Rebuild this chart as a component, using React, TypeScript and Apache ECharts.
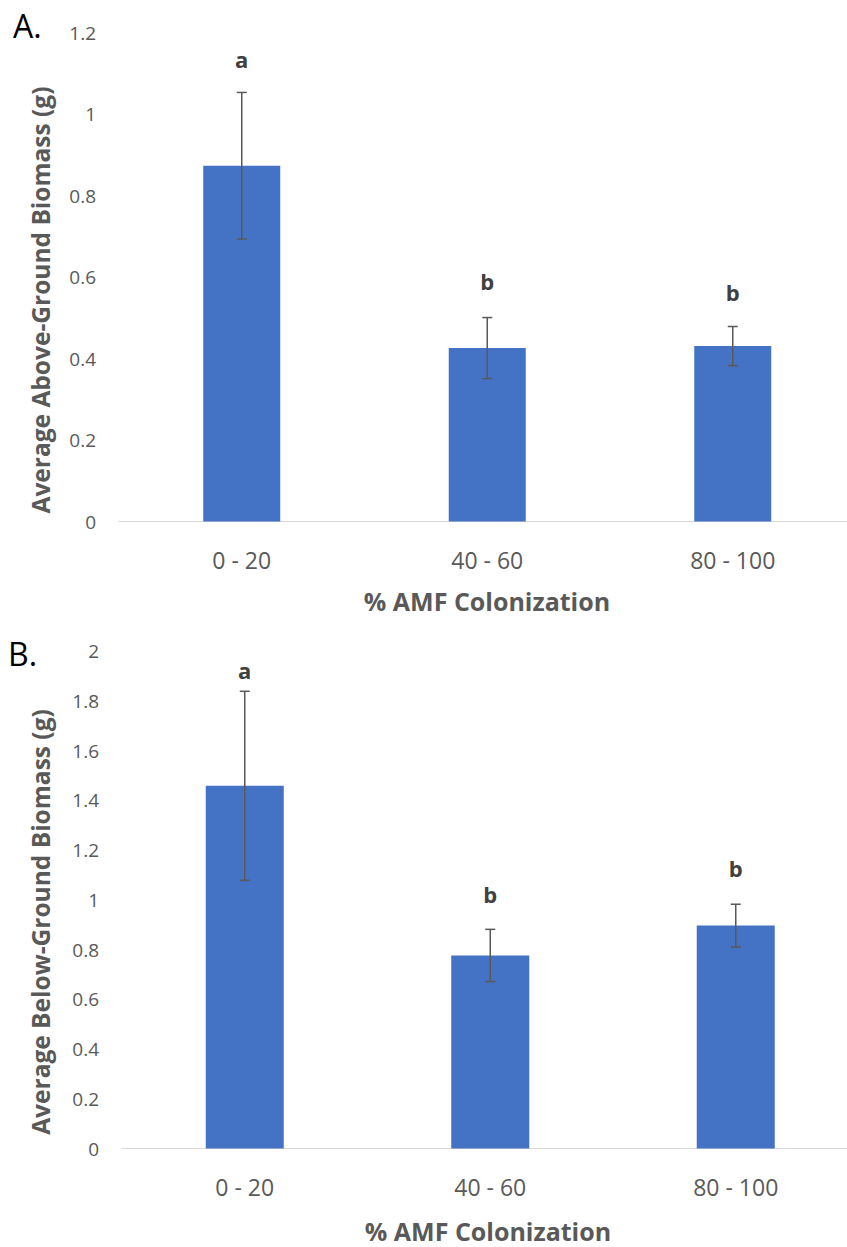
import React, { useEffect, useRef } from "react";
import * as echarts from "echarts";

const categories = ["0 - 20", "40 - 60", "80 - 100"];

const aboveMean = [0.874, 0.426, 0.431];
const aboveErr = [0.18, 0.075, 0.048];
const aboveLetters = ["a", "b", "b"];
const aboveLetterY = [1.135, 0.591, 0.564];

const belowMean = [1.458, 0.776, 0.896];
const belowErr = [0.38, 0.105, 0.086];
const belowLetters = ["a", "b", "b"];
const belowLetterY = [1.922, 1.022, 1.129];

const FONT = "'Open Sans', 'Noto Sans', sans-serif";
const GRAY = "#595959";
const BAR = "#4472C4";

function errorSeries(mean: number[], err: number[], idx: number) {
  return {
    type: "custom",
    xAxisIndex: idx,
    yAxisIndex: idx,
    data: mean.map((m, i) => [i, m - err[i], m + err[i]]),
    encode: { x: 0, y: [1, 2] },
    z: 5,
    renderItem: (params: any, api: any) => {
      const i = api.value(0);
      const hi = api.coord([i, api.value(2)]);
      const lo = api.coord([i, api.value(1)]);
      const c = 5;
      const st = { stroke: GRAY, lineWidth: 1.5 };
      return {
        type: "group",
        children: [
          { type: "line", shape: { x1: hi[0], y1: hi[1], x2: lo[0], y2: lo[1] }, style: st },
          { type: "line", shape: { x1: hi[0] - c, y1: hi[1], x2: hi[0] + c, y2: hi[1] }, style: st },
          { type: "line", shape: { x1: lo[0] - c, y1: lo[1], x2: lo[0] + c, y2: lo[1] }, style: st },
        ],
      };
    },
  };
}

function letterSeries(ys: number[], letters: string[], idx: number) {
  return {
    type: "custom",
    xAxisIndex: idx,
    yAxisIndex: idx,
    data: ys.map((y, i) => [i, y]),
    encode: { x: 0, y: 1 },
    z: 6,
    renderItem: (params: any, api: any) => {
      const p = api.coord([api.value(0), api.value(1)]);
      return {
        type: "text",
        x: p[0],
        y: p[1],
        style: {
          text: letters[params.dataIndex],
          font: `bold 22px ${FONT}`,
          fill: "#404040",
          align: "center",
          verticalAlign: "middle",
        },
      };
    },
  };
}

function xAxis(idx: number) {
  return {
    type: "category",
    gridIndex: idx,
    data: categories,
    axisLine: { lineStyle: { color: "#d9d9d9", width: 1 } },
    axisTick: { show: false },
    axisLabel: { fontFamily: FONT, fontSize: 23, color: GRAY, margin: 27 },
  };
}

function yAxis(idx: number, max: number) {
  return {
    type: "value",
    gridIndex: idx,
    min: 0,
    max,
    interval: 0.2,
    axisLine: { show: false },
    axisTick: { show: false },
    splitLine: { show: false },
    axisLabel: { fontFamily: FONT, fontSize: 19, color: GRAY, margin: 23 },
  };
}

export default function App() {
  const ref = useRef<HTMLDivElement>(null);
  useEffect(() => {
    if (!ref.current) return;
    const chart = echarts.init(ref.current, undefined, { renderer: "svg" });
    chart.setOption({
      animation: false,
      backgroundColor: "#ffffff",
      grid: [
        { left: 119, top: 33, width: 736.5, height: 488.5 },
        { left: 122, top: 651, width: 736.5, height: 497.5 },
      ],
      xAxis: [xAxis(0), xAxis(1)],
      yAxis: [yAxis(0, 1.2), yAxis(1, 2)],
      graphic: [
        {
          type: "text", x: 13, y: 25,
          style: { text: "A.", font: `32px ${FONT}`, fill: "#000", align: "left", verticalAlign: "middle" },
        },
        {
          type: "text", x: 8, y: 653,
          style: { text: "B.", font: `32px ${FONT}`, fill: "#000", align: "left", verticalAlign: "middle" },
        },
        {
          type: "text", x: 40, y: 300, rotation: Math.PI / 2,
          style: { text: "Average Above-Ground Biomass (g)", font: `bold 24.5px ${FONT}`, fill: GRAY, align: "center", verticalAlign: "middle" },
        },
        {
          type: "text", x: 40, y: 922, rotation: Math.PI / 2,
          style: { text: "Average Below-Ground Biomass (g)", font: `bold 24.5px ${FONT}`, fill: GRAY, align: "center", verticalAlign: "middle" },
        },
        {
          type: "text", x: 487, y: 601,
          style: { text: "% AMF Colonization", font: `bold 25px ${FONT}`, fill: GRAY, align: "center", verticalAlign: "middle" },
        },
        {
          type: "text", x: 488, y: 1231,
          style: { text: "% AMF Colonization", font: `bold 25px ${FONT}`, fill: GRAY, align: "center", verticalAlign: "middle" },
        },
      ],
      series: [
        { type: "bar", xAxisIndex: 0, yAxisIndex: 0, data: aboveMean, barWidth: 77, itemStyle: { color: BAR } },
        errorSeries(aboveMean, aboveErr, 0),
        letterSeries(aboveLetterY, aboveLetters, 0),
        { type: "bar", xAxisIndex: 1, yAxisIndex: 1, data: belowMean, barWidth: 78, itemStyle: { color: BAR } },
        errorSeries(belowMean, belowErr, 1),
        letterSeries(belowLetterY, belowLetters, 1),
      ],
    });
    return () => chart.dispose();
  }, []);
  return (
    <div
      style={{ position: "absolute", left: 0, top: 0, width: 847, height: 1247, overflow: "hidden", background: "#fff" }}
    >
      <div ref={ref} style={{ width: 880, height: 1247 }} />
    </div>
  );
}
